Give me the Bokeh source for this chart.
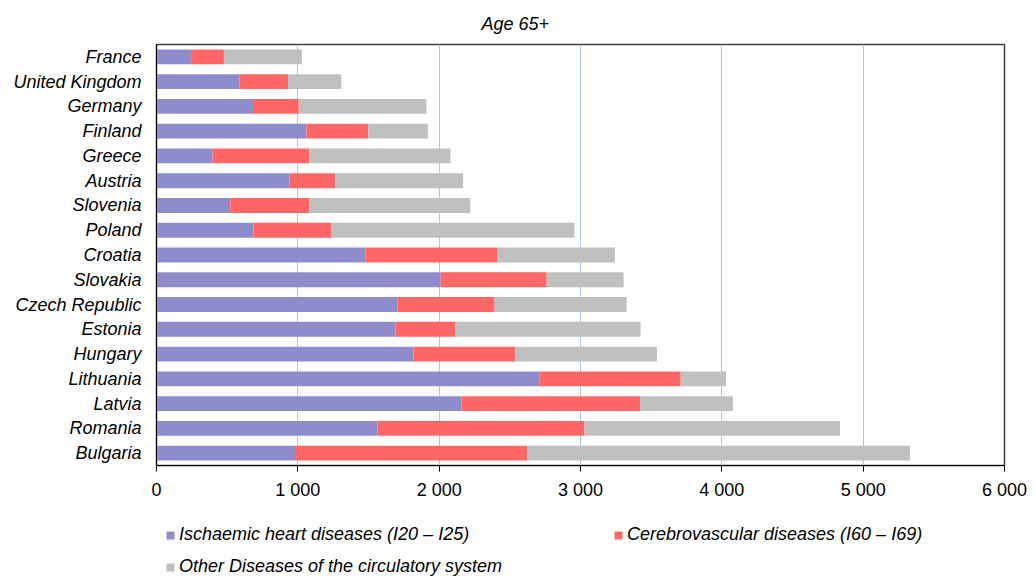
from bokeh.plotting import figure
from bokeh.layouts import column
from bokeh.models import (FactorRange, Range1d, FixedTicker,
                          Legend, LegendItem, ColumnDataSource)
from bokeh.embed import file_html
from bokeh.resources import INLINE

# ---- data (top-to-bottom order as in the chart) ----
countries = ["France", "United Kingdom", "Germany", "Finland", "Greece", "Austria",
             "Slovenia", "Poland", "Croatia", "Slovakia", "Czech Republic", "Estonia",
             "Hungary", "Lithuania", "Latvia", "Romania", "Bulgaria"]
ischaemic = [243, 586, 683, 1061, 397, 941, 522, 686, 1480, 2011, 1706, 1692,
             1819, 2712, 2159, 1564, 980]
cerebrovascular = [234, 345, 324, 438, 686, 324, 561, 553, 934, 750, 687, 423,
                   721, 997, 1262, 1465, 1645]
other = [551, 376, 903, 421, 997, 905, 1137, 1718, 829, 544, 933, 1310,
         1001, 321, 657, 1807, 2707]
series_labels = ["Ischaemic heart diseases (I20 \u2013 I25)",
                 "Cerebrovascular diseases (I60 \u2013 I69)",
                 "Other Diseases of the circulatory system"]
x_ticks = [0, 1000, 2000, 3000, 4000, 5000, 6000]
x_tick_labels = ["0", "1 000", "2 000", "3 000", "4 000", "5 000", "6 000"]
title_text = "Age 65+"

colors = ["#8f8ccc", "#ff6666", "#c0c0c0"]
FONT = "Liberation Sans"

bottom_up = list(reversed(countries))
src = ColumnDataSource(dict(country=countries, ihd=ischaemic, cvd=cerebrovascular, oth=other))

p = figure(width=1035, height=510, output_backend="svg", toolbar_location=None,
           y_range=FactorRange(factors=bottom_up), x_range=Range1d(0, 6000),
           min_border_left=156, min_border_right=31, min_border_top=43, min_border_bottom=45)

rs = p.hbar_stack(["ihd", "cvd", "oth"], y="country", height=0.6, color=colors,
                  line_color=None, source=src)

# x axis
xa = p.xaxis[0]
xa.ticker = FixedTicker(ticks=x_ticks)
xa.major_label_overrides = {t: l for t, l in zip(x_ticks, x_tick_labels)}
xa.major_label_text_font = FONT
xa.major_label_text_font_size = "18px"
xa.major_label_text_color = "#000000"
xa.axis_line_color = "#000000"
xa.major_tick_line_color = "#000000"
xa.major_tick_out = 6
xa.major_tick_in = 0
xa.minor_tick_line_color = None
xa.major_label_standoff = 8

# y axis
ya = p.yaxis[0]
ya.major_tick_line_color = None
ya.major_tick_out = 0
ya.major_tick_in = 0
ya.axis_line_color = "#000000"
ya.major_label_text_font = FONT
ya.major_label_text_font_style = "italic"
ya.major_label_text_font_size = "18px"
ya.major_label_text_color = "#000000"
ya.major_label_standoff = 15

p.ygrid.grid_line_color = None
p.xgrid.ticker = FixedTicker(ticks=x_ticks)
p.xgrid.grid_line_color = "#a7c9e9"
p.xgrid.grid_line_width = 1
p.outline_line_color = "#404040"
p.outline_line_width = 1.5

# title
p.title.text = title_text
p.title.align = "left"
p.title.offset = 325
p.title.standoff = 22
p.title.text_font = FONT
p.title.text_font_style = "italic"
p.title.text_font_size = "18px"
p.title.text_color = "#000000"

# legend strip below the chart: same stacked series, kept outside its visible x range
lg = figure(width=1035, height=69, output_backend="svg", toolbar_location=None,
            x_range=Range1d(-2, -1), y_range=FactorRange(factors=bottom_up),
            x_axis_location=None, y_axis_location=None,
            min_border_left=0, min_border_right=0, min_border_top=0, min_border_bottom=0)
lg.grid.grid_line_color = None
lg.outline_line_color = None
lrs = lg.hbar_stack(["ihd", "cvd", "oth"], y="country", height=0, color=colors,
                    line_color=None, source=src)
items = [LegendItem(label=lab, renderers=[r]) for lab, r in zip(series_labels, lrs)]
leg = Legend(items=items, location=(9, 2), ncols=2, orientation="horizontal",
             glyph_width=10, glyph_height=10, label_standoff=4, label_width=423,
             label_height=20, spacing=11, padding=0, margin=0,
             background_fill_alpha=0, border_line_color=None,
             label_text_font=FONT, label_text_font_style="italic",
             label_text_font_size="18px", label_text_color="#000000")
lg.add_layout(leg, "center")

open("out.html", "w").write(file_html(column(p, lg, spacing=0), INLINE))
